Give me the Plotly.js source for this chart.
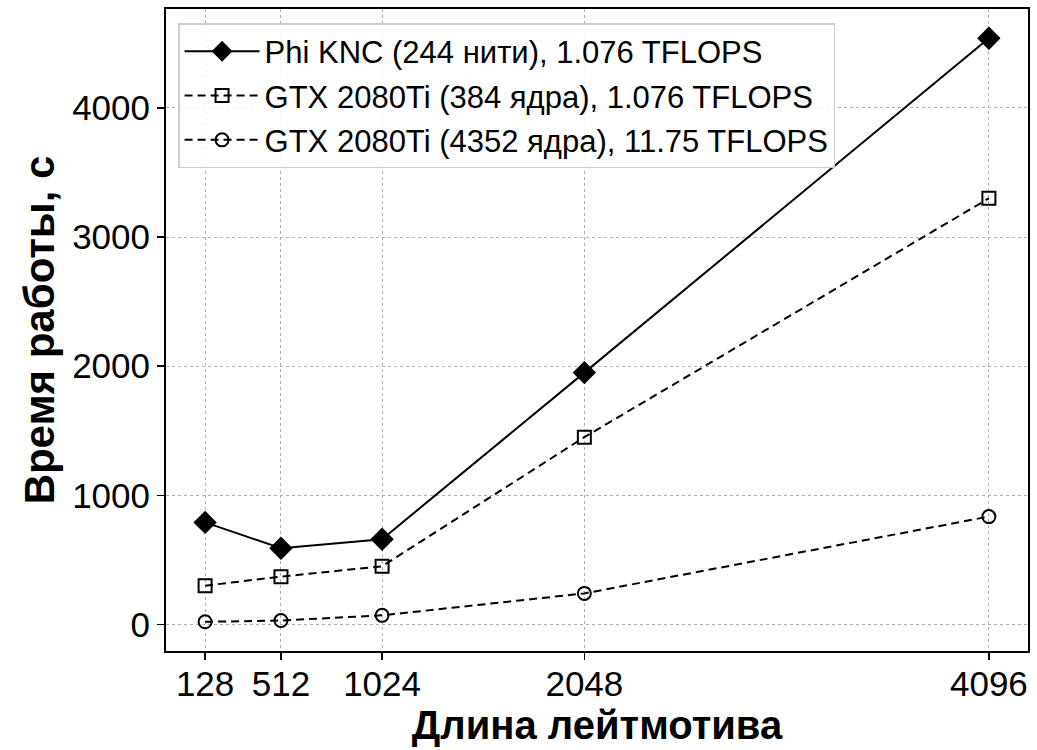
<!DOCTYPE html>
<html><head><meta charset="utf-8">
<script src="https://cdn.plot.ly/plotly-3.0.1.min.js"></script>
<style>html,body{margin:0;padding:0;background:#fff}#c{width:1037px;height:750px}</style>
</head><body><div id="c"></div>
<script>
const motifLengths = [128, 512, 1024, 2048, 4096];
const phiKnc = [790, 590, 660, 1950, 4540];
const gtx384 = [300, 370, 450, 1450, 3300];
const gtx4352 = [20, 30, 70, 240, 835];
const seriesNames = [
  "Phi KNC (244 нити), 1.076 TFLOPS",
  "GTX 2080Ti (384 ядра), 1.076 TFLOPS",
  "GTX 2080Ti (4352 ядра), 11.75 TFLOPS"
];
const xTickLabels = ["128", "512", "1024", "2048", "4096"];
const yTicks = [0, 1000, 2000, 3000, 4000];

const traces = [
  {x: motifLengths, y: phiKnc, name: seriesNames[0], mode: "lines+markers", legendgroup: "a",
   line: {color: "#000", width: 2}, marker: {symbol: "diamond", size: 18, color: "#000"}},
  {x: motifLengths, y: gtx384, name: seriesNames[1], mode: "lines+markers", legendgroup: "b",
   line: {color: "#000", width: 2, dash: "8px,5px"},
   marker: {symbol: "square-open", size: 13, color: "#000", line: {width: 2, color: "#000"}}},
  {x: motifLengths, y: gtx4352, name: seriesNames[2], mode: "lines+markers", legendgroup: "c",
   line: {color: "#000", width: 2, dash: "8px,5px"},
   marker: {symbol: "circle-open", size: 13, color: "#000", line: {width: 2, color: "#000"}}}
];

const layout = {
  width: 1037, height: 750,
  margin: {l: 166, r: 9, t: 9, b: 99},
  paper_bgcolor: "#fff", plot_bgcolor: "#fff",
  font: {family: "Liberation Sans, Arial, sans-serif", color: "#000"},
  showlegend: true,
  legend: {x: 0.014, y: 0.978, xanchor: "left", yanchor: "top",
    bgcolor: "rgba(255,255,255,0.85)", bordercolor: "#cccccc", borderwidth: 1.5,
    font: {size: 31, family: "Liberation Sans, Arial, sans-serif"},
    tracegroupgap: 1, itemwidth: 75},
  xaxis: {
    range: [-70, 4294], tickmode: "array", tickvals: motifLengths, ticktext: xTickLabels,
    showgrid: true, gridcolor: "#b0b0b0", griddash: "dot", gridwidth: 1,
    zeroline: false, showline: true, linecolor: "#000", linewidth: 2, mirror: true,
    ticks: "outside", ticklen: 7, tickwidth: 1.5, tickcolor: "#000",
    tickfont: {size: 35}, ticklabelstandoff: -6,
    title: {text: "<b>Длина лейтмотива</b>", font: {size: 40}, standoff: 2}
  },
  yaxis: {
    range: [-206, 4766], tickmode: "array", tickvals: yTicks,
    showgrid: true, gridcolor: "#b0b0b0", griddash: "dot", gridwidth: 1,
    zeroline: false, showline: true, linecolor: "#000", linewidth: 2, mirror: true,
    ticks: "outside", ticklen: 7, tickwidth: 1.5, tickcolor: "#000",
    tickfont: {size: 35},
    title: {text: "<b>Время работы, с</b>", font: {size: 42}, standoff: 4}
  }
};
Plotly.newPlot("c", traces, layout, {staticPlot: true});
</script></body></html>
